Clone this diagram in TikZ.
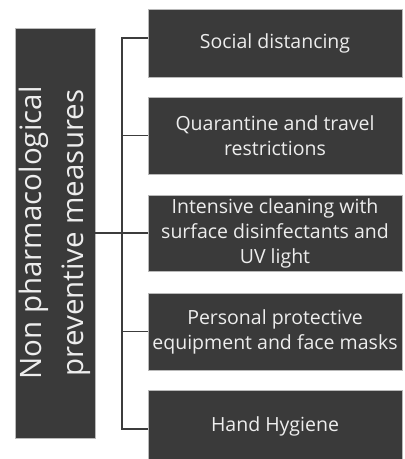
\documentclass[tikz,border=0pt]{standalone}
\usepackage{fontspec}
\setmainfont{Open Sans}
\definecolor{boxfill}{HTML}{3A3A3A}
\definecolor{boxtext}{HTML}{EDEDED}
\definecolor{linecol}{HTML}{3C3C3C}
\begin{document}
\begin{tikzpicture}[x=1pt,y=-1pt,
  item/.style={fill=boxfill,draw=gray!55,line width=0.5pt,text=boxtext,minimum width=254pt,align=center,inner sep=0pt,font=\fontsize{19.5}{25}\selectfont},
  link/.style={draw=linecol,line width=1.5pt}]
\useasboundingbox (0,0) rectangle (405,459);
\node[fill=boxfill,draw=gray!55,line width=0.5pt,text=boxtext,minimum width=80pt,minimum height=410pt,inner sep=0pt] (L) at (55,233) {};
\node[text=boxtext,rotate=90,align=center,font=\fontsize{29.5}{42}\selectfont] (Lt) at (55,233) {Non pharmacological\\preventive measures};
\node[item,minimum height=68pt] (b1) at (275,43) {Social distancing};
\node[item,minimum height=77pt] (b2) at (275,135.5) {Quarantine and travel\\restrictions};
\node[item,minimum height=76pt] (b3) at (275,233) {Intensive cleaning with\\surface disinfectants and\\UV light};
\node[item,minimum height=77pt] (b4) at (275,331.5) {Personal protective\\equipment and face masks};
\node[item,minimum height=72pt] (b5) at (275,426) {Hand Hygiene};
\coordinate (t1) at (122,38);
\coordinate (t5) at (122,429);
\draw[link] (b1.west |- t1) -- (t1) -- (t5) -- (b5.west |- t5);
\draw[link] (b2.west) -- (b2.west -| t1);
\draw[link] (b4.west) -- (b4.west -| t1);
\draw[link] (L.east |- b3.west) -- (b3.west);
\end{tikzpicture}
\end{document}
